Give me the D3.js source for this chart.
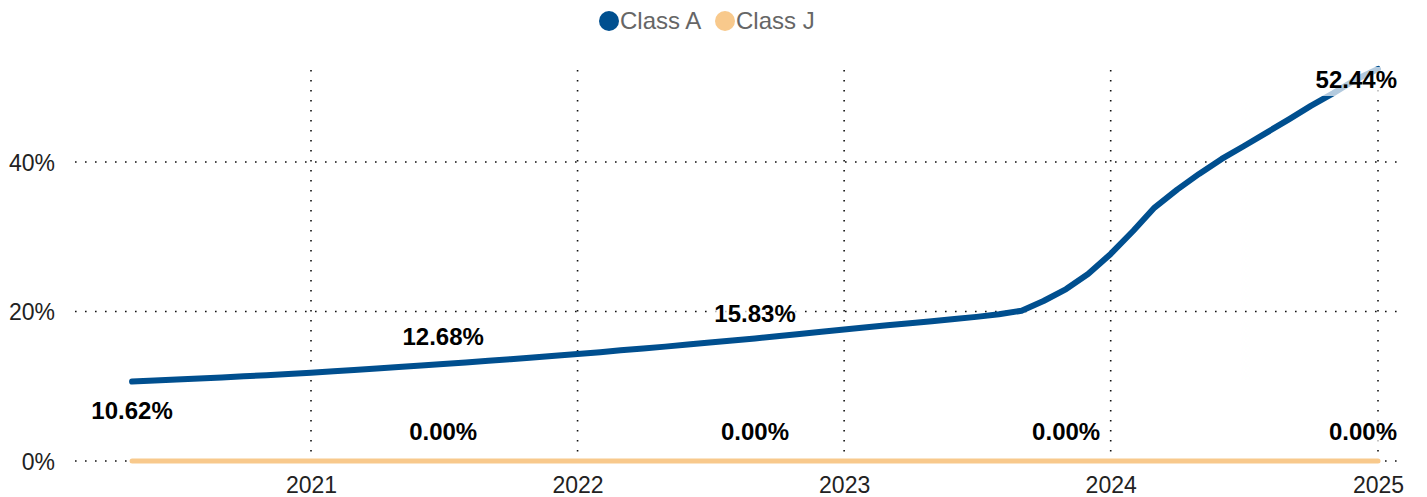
<!DOCTYPE html>
<html>
<head>
<meta charset="utf-8">
<script src="https://cdn.jsdelivr.net/npm/d3@7"></script>
<style>
  body { margin: 0; background: #fff; }
  svg { display: block; font-family: "Liberation Sans", Arial, sans-serif; }
</style>
</head>
<body>
<div id="chart"></div>
<script>
"use strict";

// monthly observations, May 2020 .. Jan 2025
const months = [
  "2020-05", "2020-06", "2020-07", "2020-08", "2020-09", "2020-10", "2020-11", "2020-12",
  "2021-01", "2021-02", "2021-03", "2021-04", "2021-05", "2021-06", "2021-07", "2021-08", "2021-09", "2021-10", "2021-11", "2021-12",
  "2022-01", "2022-02", "2022-03", "2022-04", "2022-05", "2022-06", "2022-07", "2022-08", "2022-09", "2022-10", "2022-11", "2022-12",
  "2023-01", "2023-02", "2023-03", "2023-04", "2023-05", "2023-06", "2023-07", "2023-08", "2023-09", "2023-10", "2023-11", "2023-12",
  "2024-01", "2024-02", "2024-03", "2024-04", "2024-05", "2024-06", "2024-07", "2024-08", "2024-09", "2024-10", "2024-11", "2024-12",
  "2025-01"
];

const classA = [
  10.62, 10.76, 10.90, 11.04, 11.18, 11.33, 11.48, 11.64,
  11.80, 11.99, 12.18, 12.37, 12.56, 12.77, 12.98, 13.19, 13.40, 13.62, 13.84, 14.07,
  14.30, 14.55, 14.80, 15.05, 15.30, 15.57, 15.84, 16.12, 16.40, 16.70, 17.00, 17.30,
  17.60, 17.88, 18.15, 18.42, 18.70, 18.98, 19.28, 19.62, 20.10, 21.40, 23.00, 25.00,
  27.70, 30.80, 33.90, 36.30, 38.40, 40.40, 42.10, 43.90, 45.70, 47.50, 49.20, 51.00,
  52.44
];

const classJ = [
  0, 0, 0, 0, 0, 0, 0, 0,
  0, 0, 0, 0, 0, 0, 0, 0, 0, 0, 0, 0,
  0, 0, 0, 0, 0, 0, 0, 0, 0, 0, 0, 0,
  0, 0, 0, 0, 0, 0, 0, 0, 0, 0, 0, 0,
  0, 0, 0, 0, 0, 0, 0, 0, 0, 0, 0, 0,
  0
];

// data labels shown on the chart (null = no label at that point)
const labelMonths = ["2020-05", "2021-07", "2022-09", "2023-11", "2025-01"];
const classALabels = [10.62, 12.68, 15.83, null, 52.44];
const classJLabels = [null, 0, 0, 0, 0];

const seriesNames = ["Class A", "Class J"];
const seriesColors = ["#004f8f", "#f8c98c"];

const yearTicks = ["2021", "2022", "2023", "2024", "2025"];
const yTicks = [0, 20, 40];

let ResketchChart = function (id) {
  let self = {
    id: id,
    width: 1427,
    height: 497,
    plot: { left: 75, right: 1397, top: 70, bottom: 461 },
    svg: null
  };

  let parseMonth = d3.timeParse("%Y-%m");
  let parseYear = d3.timeParse("%Y");
  let fmt = d3.format(".2f");

  function init() {
    self.svg = d3.select("#" + self.id).append("svg")
      .attr("width", self.width).attr("height", self.height);
  }

  function draw() {
    let svg = self.svg, p = self.plot;

    let x = d3.scaleTime()
      .domain([parseYear("2021"), parseYear("2025")])
      .range([311, 1378]);
    let y = d3.scaleLinear().domain([0, 52.3]).range([p.bottom, p.top]);

    let grid = svg.append("g").classed("grid", true)
      .attr("stroke", "#111").attr("stroke-width", 1.6)
      .attr("stroke-dasharray", "1.6,8.4");

    grid.selectAll(".hgrid").data(yTicks).enter().append("line")
      .attr("x1", p.left).attr("x2", p.right)
      .attr("y1", d => y(d)).attr("y2", d => y(d));

    grid.selectAll(".vgrid").data(yearTicks).enter().append("line")
      .attr("x1", d => x(parseYear(d))).attr("x2", d => x(parseYear(d)))
      .attr("y1", p.top).attr("y2", p.bottom);

    // y axis labels
    let yAxis = d3.axisLeft(y).tickValues(yTicks).tickSize(0).tickPadding(0)
      .tickFormat(d => d + "%");
    svg.append("g").attr("transform", "translate(55,0)").call(yAxis)
      .call(g => g.select(".domain").remove())
      .selectAll("text").attr("font-size", 23).attr("fill", "#222")
      .attr("font-family", "Liberation Sans, Arial, sans-serif").attr("dy", "0.35em");

    // x axis labels
    let xAxis = d3.axisBottom(x).tickValues(yearTicks.map(parseYear)).tickSize(0)
      .tickPadding(0).tickFormat(d3.timeFormat("%Y"));
    svg.append("g").attr("transform", "translate(0,493)").call(xAxis)
      .call(g => g.select(".domain").remove())
      .selectAll("text").attr("font-size", 23).attr("fill", "#222")
      .attr("font-family", "Liberation Sans, Arial, sans-serif").attr("dy", 0);

    let dates = months.map(parseMonth);
    let series = [classJ, classA];
    let colors = [seriesColors[1], seriesColors[0]];
    let widths = [5, 6];

    series.forEach((values, i) => {
      let line = d3.line().x((d, k) => x(dates[k])).y(d => y(d));
      svg.append("path").datum(values)
        .attr("d", line).attr("fill", "none")
        .attr("stroke", colors[i]).attr("stroke-width", widths[i])
        .attr("stroke-linecap", "round").attr("stroke-linejoin", "round");
    });

    let labels = svg.append("g").classed("data-labels", true);
    drawLabels(labels, classJLabels, "above", x, y);
    drawLabels(labels, classALabels, null, x, y);

    drawLegend();
  }

  function drawLabels(g, values, side, x, y) {
    values.forEach((v, i) => {
      if (v === null) return;
      let cx = x(parseMonth(labelMonths[i]));
      let pos = side || (i === 0 ? "below" : "above");
      let base = pos === "below" ? y(v) + 37 : y(v) - 21;
      base = Math.max(base, self.plot.top + 18);

      let grp = g.append("g");
      let rect = grp.append("rect").attr("fill", "#fff").attr("fill-opacity", 0.7);
      let t = grp.append("text")
        .attr("x", cx).attr("y", base).attr("text-anchor", "middle")
        .attr("font-size", 24).attr("font-weight", "bold").attr("fill", "#000")
        .text(fmt(v) + "%");

      let bb = t.node().getBBox();
      let shift = 0;
      if (bb.x + bb.width > self.plot.right) shift = self.plot.right - (bb.x + bb.width);
      t.attr("x", cx + shift);
      bb = t.node().getBBox();
      rect.attr("x", bb.x - 6).attr("y", bb.y + 1)
        .attr("width", bb.width + 12).attr("height", bb.height + 2);
    });
  }

  function drawLegend() {
    let legend = self.svg.append("g").classed("legend", true);
    let starts = [609, 725];
    seriesNames.forEach((name, i) => {
      legend.append("circle").attr("cx", starts[i]).attr("cy", 21).attr("r", 10)
        .attr("fill", seriesColors[i]);
      legend.append("text").attr("x", starts[i] + 11).attr("y", 29)
        .attr("font-size", 24).attr("fill", "#666").text(name);
    });
  }

  return { init, draw };
};

let chart = ResketchChart("chart");
chart.init();
chart.draw();
</script>
</body>
</html>
